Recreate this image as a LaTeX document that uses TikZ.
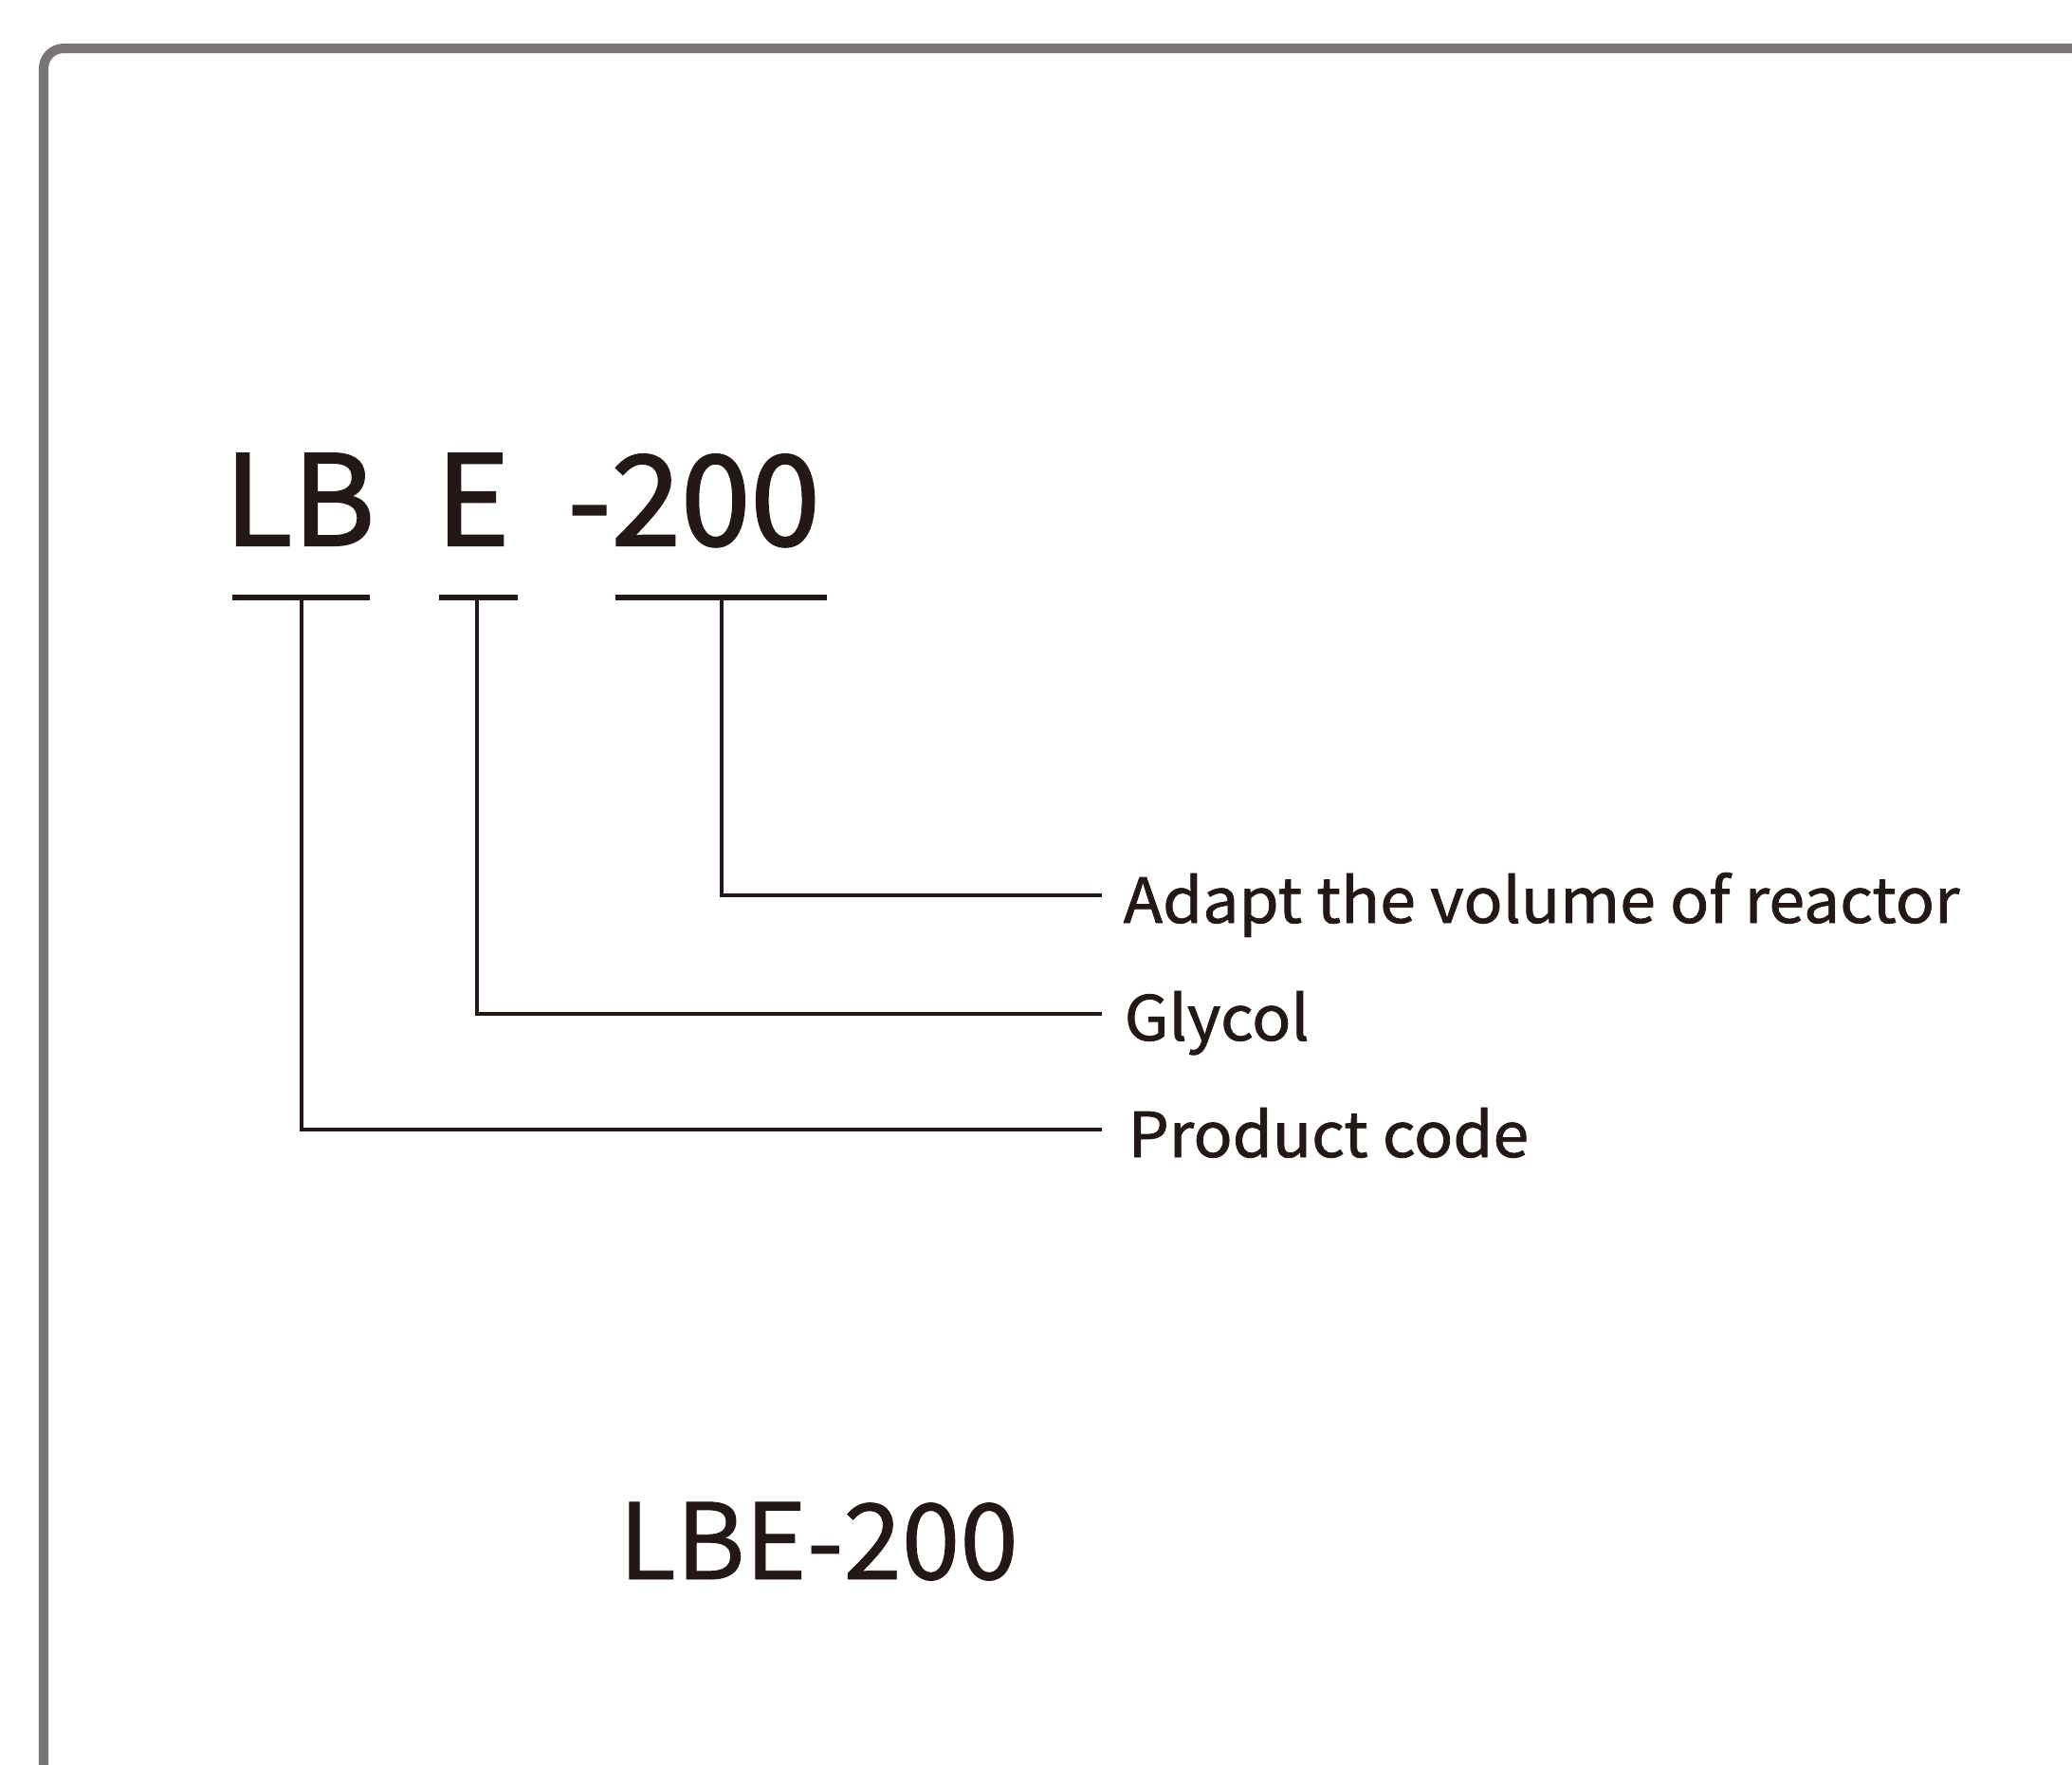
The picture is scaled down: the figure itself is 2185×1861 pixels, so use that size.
\documentclass[tikz,border=0pt]{standalone}
\usepackage{fontspec}
\newfontfamily\nsfbig[FakeBold=1.6]{Noto Sans CJK SC}
\newfontfamily\nsflbl[FakeBold=1.2,FakeStretch=1.04]{Noto Sans CJK SC}
\newfontfamily\nsfmodel[FakeBold=0.8]{Noto Sans CJK SC}
\definecolor{ink}{HTML}{231815}
\definecolor{framegray}{HTML}{7A7476}
\begin{document}
\begin{tikzpicture}[x=0.01cm,y=-0.01cm,
  bigcode/.style={inner sep=0pt, anchor=base west, text=ink, font=\nsfbig\fontsize{37.6}{40}\selectfont},
  lbl/.style={inner sep=0pt, anchor=base west, text=ink, font=\nsflbl\fontsize{18.6}{22}\selectfont},
  model/.style={inner sep=0pt, anchor=base west, text=ink, font=\nsfmodel\fontsize{31.5}{34}\selectfont},
  uline/.style={draw=ink, line width=1.45pt},
  conn/.style={draw=ink, line width=1.3pt},
  framestyle/.style={draw=framegray, line width=2.85pt, rounded corners=6}]
\useasboundingbox (0,0) rectangle (2185,1861);
\clip (0,0) rectangle (2185,1861);
\fill[white] (0,0) rectangle (2185,1861);
\draw[framestyle] (46,1920) -- (46,51) -- (2250,51);

\node[bigcode] (lb) at (236,575) {LB};
\node[bigcode] (e) at (459,575) {E};
\node[bigcode] (num) at (598,575) {-200};

\draw[uline] (245,630) -- (390,630);
\draw[uline] (463,630) -- (546,630);
\draw[uline] (649,630) -- (872,630);

\coordinate (u1) at (318,630);
\coordinate (u2) at (503,630);
\coordinate (u3) at (761,630);
\coordinate (e1) at (1162,944);
\coordinate (e2) at (1162,1069);
\coordinate (e3) at (1162,1191);

\node[lbl] (l1) at (1184,973) {Adapt the volume of reactor};
\node[lbl] (l2) at (1185,1097) {Glycol};
\node[lbl] (l3) at (1189,1220) {Product code};

\draw[conn] (u3) |- (e1);
\draw[conn] (u2) |- (e2);
\draw[conn] (u1) |- (e3);

\node[model] (m) at (652,1665) {LBE-200};
\end{tikzpicture}
\end{document}
